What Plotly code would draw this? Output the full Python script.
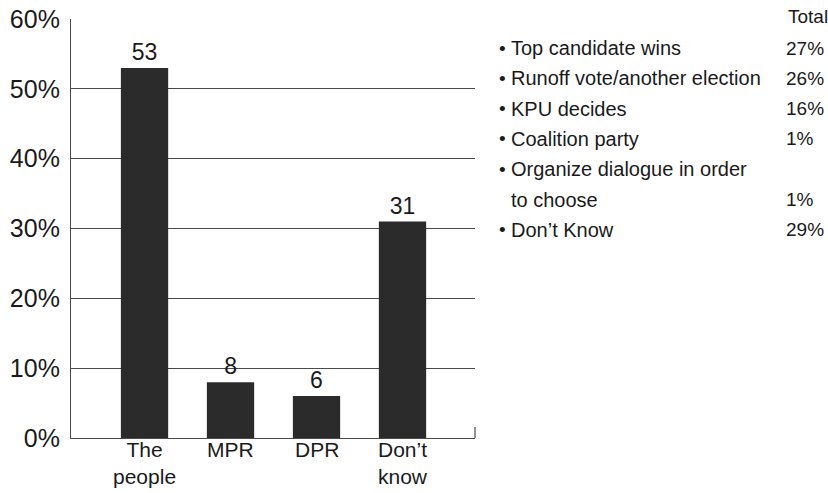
import plotly.graph_objects as go

# Who should decide the winner
categories = ["The<br>people", "MPR", "DPR", "Don’t<br>know"]
shares = [53, 8, 6, 31]
y_ticks = [0, 10, 20, 30, 40, 50, 60]
y_tick_text = ["0%", "10%", "20%", "30%", "40%", "50%", "60%"]

# What should happen if no candidate wins outright
option_labels = [
    "Top candidate wins",
    "Runoff vote/another election",
    "KPU decides",
    "Coalition party",
    "Organize dialogue in order\nto choose",
    "Don’t Know",
]
option_totals = [27, 26, 16, 1, 1, 29]

W, H = 828, 493
L, R, T, B = 71, 353, 19, 55
PW, PH = W - L - R, H - T - B

INK = "#1a1a1a"
BAR = "#2b2b2b"
GRID = "#4a4a4a"
FONT = "Liberation Sans, Arial, sans-serif"


def px_x(x):
    return (x - L) / PW


def px_y(y):
    return 1 - (y - T) / PH


xs = list(range(len(categories)))

fig = go.Figure(
    go.Bar(
        x=xs,
        y=shares,
        width=0.55,
        marker=dict(color=BAR, line=dict(width=0)),
        text=[str(v) for v in shares],
        textposition="outside",
        textfont=dict(size=23, color=INK, family=FONT),
        cliponaxis=False,
    )
)

annotations = []

# Category names under the bars
for x, name in zip(xs, categories):
    annotations.append(dict(
        x=x, y=px_y(437), xref="x", yref="paper", text=name,
        xanchor="center", yanchor="top", showarrow=False, borderpad=0,
        font=dict(size=21, color=INK, family=FONT),
    ))

# Side list of options with totals
annotations.append(dict(
    x=px_x(786), y=px_y(17), xref="paper", yref="paper", text="Total",
    xanchor="left", yanchor="middle", showarrow=False,
    font=dict(size=19, color=INK, family=FONT),
))
row_y = 48
for label, total in zip(option_labels, option_totals):
    lines = label.split("\n")
    for i, line in enumerate(lines):
        if i == 0:
            annotations.append(dict(
                x=px_x(497), y=px_y(row_y), xref="paper", yref="paper", text="•",
                xanchor="left", yanchor="middle", showarrow=False,
                font=dict(size=19, color=INK, family=FONT),
            ))
        annotations.append(dict(
            x=px_x(509), y=px_y(row_y), xref="paper", yref="paper", text=line,
            xanchor="left", yanchor="middle", showarrow=False,
            font=dict(size=20, color=INK, family=FONT),
        ))
        if i == len(lines) - 1:
            annotations.append(dict(
                x=px_x(784), y=px_y(row_y), xref="paper", yref="paper",
                text=f"{total}%", xanchor="left", yanchor="middle", showarrow=False,
                font=dict(size=19, color=INK, family=FONT),
            ))
        row_y += 30.3

fig.update_layout(
    width=W, height=H,
    margin=dict(l=L, r=R, t=T, b=B, pad=0),
    paper_bgcolor="white", plot_bgcolor="white",
    showlegend=False,
    font=dict(family=FONT, color=INK),
    annotations=annotations,
    shapes=[dict(
        type="line", xref="paper", yref="paper",
        x0=1, x1=1, y0=0, y1=11 / PH,
        line=dict(color=GRID, width=1.2),
    )],
    xaxis=dict(
        tickmode="array", tickvals=xs, ticktext=["" for _ in xs],
        range=[-0.855, 3.843], showgrid=False, zeroline=False,
        showline=True, linecolor=GRID, linewidth=1.2, ticks="",
        automargin=False,
    ),
    yaxis=dict(
        range=[0, 60], tickmode="array", tickvals=y_ticks, ticktext=y_tick_text,
        showgrid=True, gridcolor=GRID, gridwidth=1, zeroline=False,
        showline=True, linecolor=GRID, linewidth=1.2, ticks="",
        ticklabelstandoff=5, automargin=False,
        tickfont=dict(size=25, color=INK, family=FONT),
    ),
)

fig.write_html("out.html")
